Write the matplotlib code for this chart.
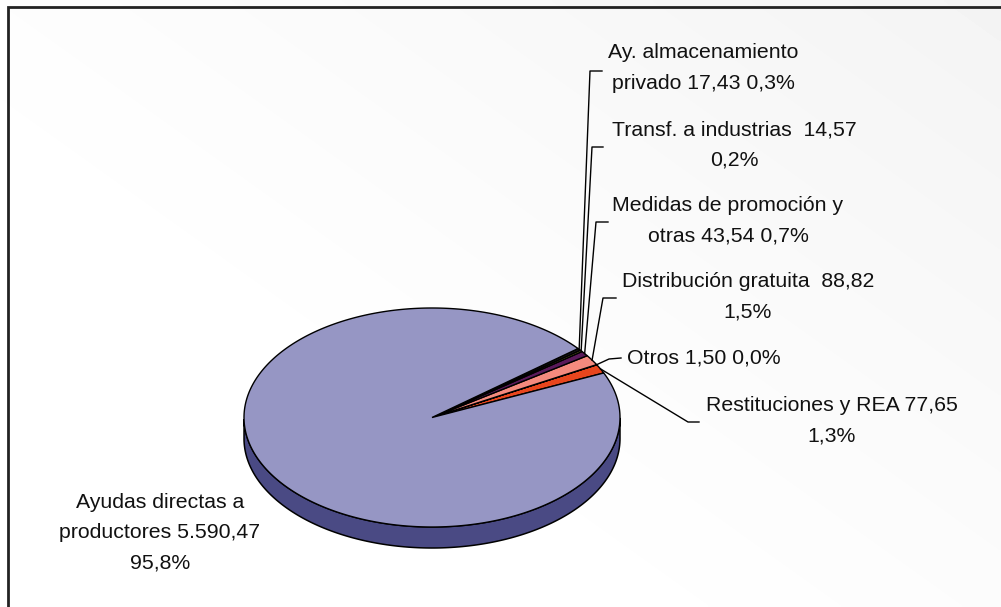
import numpy as np
import matplotlib.pyplot as plt
from matplotlib.patches import Polygon

# slices in counter-clockwise drawing order
names = ["Restituciones y REA", "Otros", "Distribución gratuita",
         "Medidas de promoción y\notras", "Transf. a industrias",
         "Ay. almacenamiento\nprivado", "Ayudas directas a\nproductores"]
values = [77.65, 1.50, 88.82, 43.54, 14.57, 17.43, 5590.47]
name_sep = [" ", " ", "  ", " ", "  ", " ", " "]
pct_sep = ["\n", " ", "\n", " ", "\n", " ", "\n"]

top_colors = ["#E8461E", "#222222", "#F48A7E", "#5A1A5A", "#6B6B20", "#1A1A1A", "#9696C4"]
side_colors = ["#A02A10", "#111111", "#B0605A", "#3A103A", "#444414", "#111111", "#4A4A84"]

# label centres and leader elbows (pixels)
label_xy = [(832, 421), (704, 358), (748, 297), (728, 221), (734, 145), (703, 68), (160, 533)]
elbows = [[(688, 422), (699, 422)], [(609, 359), (621, 358)], [(603, 298), (616, 298)],
          [(596, 222), (608, 222)], [(592, 147), (603, 147)], [(590, 71), (602, 71)], None]

W, H = 1001, 607
cx, cy, rx, ry, depth = 432, 417.5, 188, 109.5, 21
start = 24.0


def fmt_es(v, nd):
    s = f"{v:,.{nd}f}"
    return s.replace(",", "X").replace(".", ",").replace("X", ".")


def edge(t, dz=0.0):
    t = np.radians(t)
    return np.column_stack([cx + rx * np.cos(t), cy - ry * np.sin(t) + dz])


fig = plt.figure(figsize=(W / 100, H / 100), dpi=100)
ax = fig.add_axes([0, 0, 1, 1])
ax.set_xlim(0, W)
ax.set_ylim(H, 0)
ax.axis("off")
plt.rcParams["font.family"] = ["Liberation Sans", "DejaVu Sans"]

# soft grey shading toward the upper right
gx, gy = np.meshgrid(np.linspace(0, 1, 300), np.linspace(0, 1, 200))
shade = np.clip(0.65 * gx + 0.55 * (1 - gy) - 0.35, 0, 1) ** 1.2
ax.imshow(1 - 0.055 * shade, cmap="gray", vmin=0, vmax=1, extent=[0, W, H, 0],
          aspect="auto", zorder=0, interpolation="bilinear")
# chart frame: only top and left edges fall inside the picture
ax.plot([7.5, 7.5, W], [H, 6.5, 6.5], color="#222222", lw=2, zorder=1,
        solid_joinstyle="miter")

total = sum(values)
spans = [v / total * 360 for v in values]
bounds = start + np.concatenate([[0], np.cumsum(spans)])

# pie wall: only the front half (lower on screen) is seen
for i in range(len(values)):
    t = np.linspace(bounds[i], bounds[i + 1], 400)
    front = t[np.sin(np.radians(t)) <= 0]
    if len(front) < 2:
        continue
    pts = np.vstack([edge(front), edge(front[::-1], depth)])
    ax.add_patch(Polygon(pts, closed=True, fc=side_colors[i], ec="black", lw=1.1, zorder=2))

# top faces
for i in range(len(values)):
    t = np.linspace(bounds[i], bounds[i + 1], max(int(spans[i] * 3), 2))
    pts = np.vstack([[cx, cy], edge(t)])
    ax.add_patch(Polygon(pts, closed=True, fc=top_colors[i], ec="black", lw=1.0, zorder=3))

# labels and leader lines
for i in range(len(values)):
    pct = values[i] / total * 100
    txt = names[i] + name_sep[i] + fmt_es(values[i], 2) + pct_sep[i] + fmt_es(pct, 1) + "%"
    ax.text(*label_xy[i], txt, ha="center", va="center", multialignment="center",
            fontsize=15.3, color="#111111", linespacing=1.75, zorder=5)
    if elbows[i] is not None:
        mid = (bounds[i] + bounds[i + 1]) / 2
        p = edge(mid)[0]
        line = np.vstack([p, elbows[i]])
        ax.plot(line[:, 0], line[:, 1], color="black", lw=1.0, zorder=4)

fig.savefig("out.png", dpi=100)
